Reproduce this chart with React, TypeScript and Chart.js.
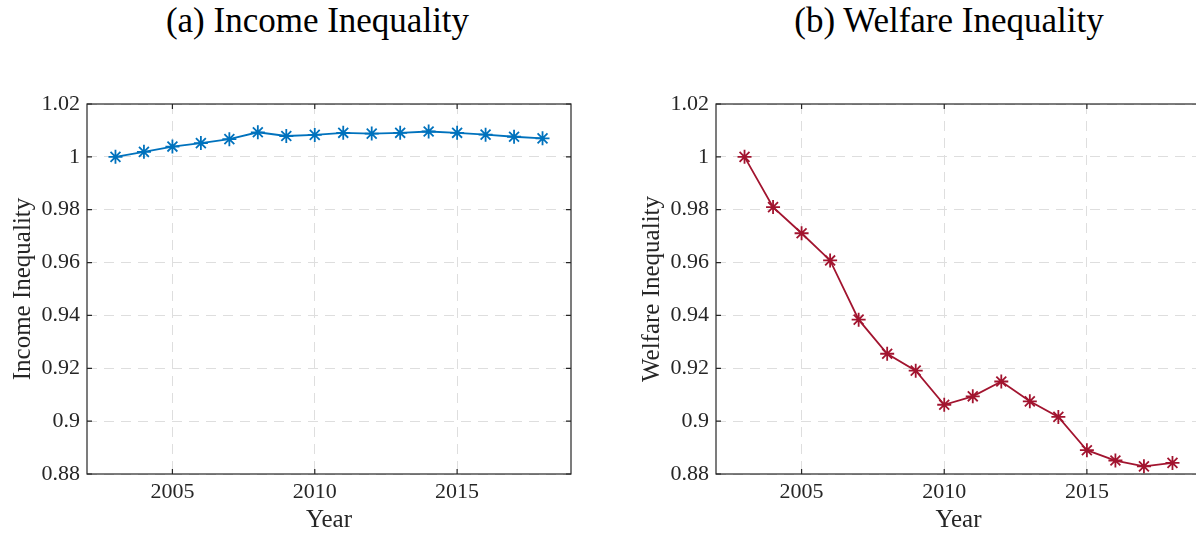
import React, { useEffect, useRef } from "react";
import { Chart, registerables } from "chart.js";

Chart.register(...registerables);

// ---- data ----
const years = [2003, 2004, 2005, 2006, 2007, 2008, 2009, 2010, 2011, 2012, 2013, 2014, 2015, 2016, 2017, 2018];
const incomeValues = [1.0, 1.0019, 1.0039, 1.0052, 1.0067, 1.0093, 1.0079, 1.0083, 1.0091, 1.0088, 1.0091, 1.0096, 1.0091, 1.0084, 1.0076, 1.007];
const welfareValues = [1.0, 0.981, 0.9711, 0.9608, 0.9384, 0.9255, 0.9191, 0.9062, 0.9094, 0.915, 0.9075, 0.9016, 0.889, 0.8851, 0.8829, 0.8842];
const xTicks = [2005, 2010, 2015];
const yTicks = [0.88, 0.9, 0.92, 0.94, 0.96, 0.98, 1.0, 1.02];
const xMin = 2002;
const xMax = 2019;
const yMin = 0.88;
const yMax = 1.02;
const titles = ["(a) Income Inequality", "(b) Welfare Inequality"];
const yLabels = ["Income Inequality", "Welfare Inequality"];
const xLabel = "Year";

const AXIS = "#262626";
const GRID = "#dedede";
const FONT = "'Liberation Serif', 'Times New Roman', serif";

const framePlugin = {
  id: "matlabFrame",
  afterDraw(chart: any) {
    const { ctx, chartArea: a, scales } = chart;
    const tl = 5;
    ctx.save();
    ctx.strokeStyle = AXIS;
    ctx.lineWidth = 1.2;
    ctx.beginPath();
    for (const t of scales.x.ticks) {
      const px = scales.x.getPixelForValue(t.value);
      ctx.moveTo(px, a.bottom);
      ctx.lineTo(px, a.bottom - tl);
      ctx.moveTo(px, a.top);
      ctx.lineTo(px, a.top + tl);
    }
    for (const t of scales.y.ticks) {
      const py = scales.y.getPixelForValue(t.value);
      ctx.moveTo(a.left, py);
      ctx.lineTo(a.left + tl, py);
      ctx.moveTo(a.right, py);
      ctx.lineTo(a.right - tl, py);
    }
    ctx.stroke();
    ctx.strokeRect(a.left, a.top, a.right - a.left, a.bottom - a.top);
    ctx.restore();
  },
};

function Panel({ values, color, yLabel, left, padRight }: { values: number[]; color: string; yLabel: string; left: number; padRight: number }) {
  const ref = useRef<HTMLCanvasElement | null>(null);
  useEffect(() => {
    if (!ref.current) return;
    const chart = new Chart(ref.current, {
      type: "line",
      data: {
        datasets: [
          {
            data: years.map((x, i) => ({ x, y: values[i] })),
            borderColor: color,
            backgroundColor: color,
            borderWidth: 1.8,
            pointStyle: "star",
            pointRadius: 7,
            pointBorderWidth: 1.8,
            pointBorderColor: color,
            pointBackgroundColor: color,
            tension: 0,
          },
        ],
      },
      options: {
        animation: false,
        responsive: false,
        devicePixelRatio: 1,
        layout: { padding: { left: 0, right: padRight, top: 44, bottom: 0 } },
        plugins: { legend: { display: false }, tooltip: { enabled: false } },
        scales: {
          x: {
            type: "linear",
            min: xMin,
            max: xMax,
            afterBuildTicks: (s: any) => {
              s.ticks = xTicks.map((v) => ({ value: v }));
            },
            afterFit: (s: any) => {
              s.height = 59;
            },
            grid: { color: GRID, lineWidth: 1, drawTicks: false },
            border: { display: false, dash: [10, 7] },
            ticks: {
              color: AXIS,
              font: { family: FONT, size: 22 },
              padding: 5,
              maxRotation: 0,
              callback: (v: any) => String(v),
            },
            title: {
              display: true,
              text: xLabel,
              color: AXIS,
              font: { family: FONT, size: 25, lineHeight: 1 },
              padding: { top: 0, bottom: 0 },
            },
          },
          y: {
            type: "linear",
            min: yMin,
            max: yMax,
            afterBuildTicks: (s: any) => {
              s.ticks = yTicks.map((v) => ({ value: v }));
            },
            afterFit: (s: any) => {
              s.width = 87;
            },
            grid: { color: GRID, lineWidth: 1, drawTicks: false },
            border: { display: false, dash: [10, 7] },
            ticks: {
              color: AXIS,
              font: { family: FONT, size: 22 },
              padding: 7,
              callback: (v: any) => String(parseFloat(Number(v).toFixed(2))),
            },
            title: {
              display: true,
              text: yLabel,
              color: AXIS,
              font: { family: FONT, size: 25, lineHeight: 1.2 },
              padding: { top: 8, bottom: 0 },
            },
          },
        },
      },
      plugins: [framePlugin],
    } as any);
    return () => chart.destroy();
  }, []);
  return (
    <canvas
      ref={ref}
      width={600}
      height={473}
      style={{ position: "absolute", left, top: 60, display: "block", width: 600, height: 473 }}
    />
  );
}

function Title({ text, center }: { text: string; center: number }) {
  return (
    <div
      style={{
        position: "absolute",
        left: center - 300,
        top: 3,
        width: 600,
        textAlign: "center",
        fontFamily: FONT,
        fontSize: 35,
        lineHeight: 1,
        color: "#000",
        whiteSpace: "nowrap",
      }}
    >
      {text}
    </div>
  );
}

export default function App() {
  return (
    <div
      style={{
        position: "absolute",
        left: 0,
        top: 0,
        width: 1196,
        height: 533,
        overflow: "hidden",
        background: "#fff",
      }}
    >
      <Title text={titles[0]} center={317.5} />
      <Title text={titles[1]} center={949} />
      <Panel values={incomeValues} color="#0072BD" yLabel={yLabels[0]} left={0} padRight={29} />
      <Panel values={welfareValues} color="#A2142F" yLabel={yLabels[1]} left={629} padRight={28} />
    </div>
  );
}
